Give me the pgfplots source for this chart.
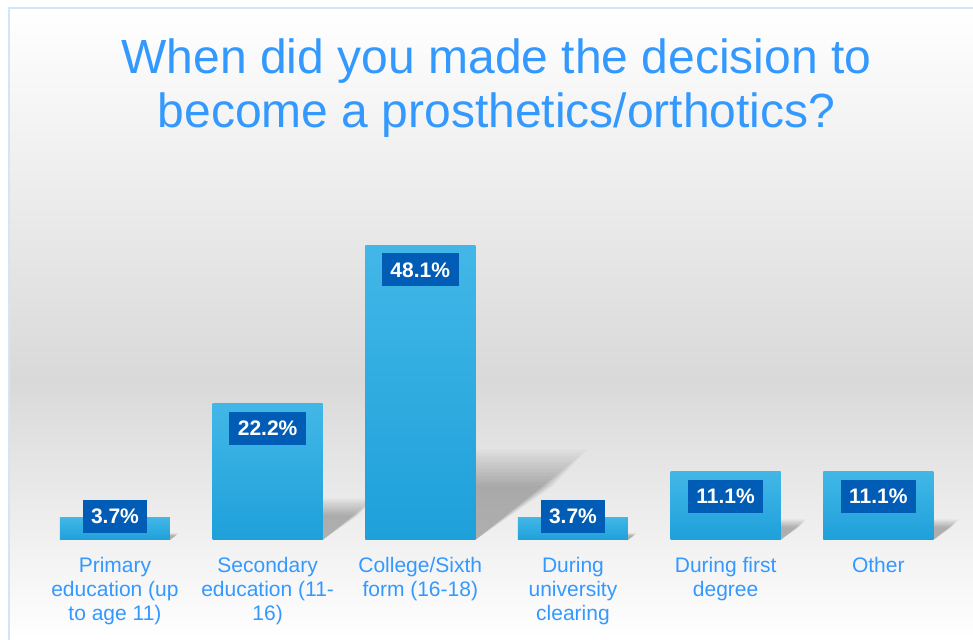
\documentclass[border=0pt]{standalone}
\usepackage{pgfplots}
\pgfplotsset{compat=1.18}
\usepackage{pgfplotstable}
\usepackage{fontspec}
\setmainfont{Liberation Sans}
\definecolor{titleblue}{HTML}{3399FF}
\definecolor{bartop}{HTML}{42B7E7}
\definecolor{barbot}{HTML}{1EA0DA}
\definecolor{boxblue}{HTML}{005CB5}
\definecolor{framecol}{HTML}{D2E6FA}
\definecolor{bggrey}{HTML}{D9D9D9}

\pgfplotstableread{
x v
0 3.7
1 22.2
2 48.1
3 3.7
4 11.1
5 11.1
}\data

\begin{document}
\begin{tikzpicture}[x=1pt,y=1pt]
\useasboundingbox (0,0) rectangle (973,639);
\fill[white] (0,0) rectangle (973,639);
\shade[top color=white, bottom color=bggrey] (9.5,259) rectangle (973,629.5);
\shade[top color=bggrey, bottom color=white] (9.5,0) rectangle (973,259.2);
\draw[framecol, line width=2pt] (8.5,-5) -- (8.5,630.5) -- (990,630.5);
\node[anchor=base, font=\fontsize{48}{54}\selectfont, text=titleblue, inner sep=0] at (496.5,565) {When did you made the decision to};
\node[anchor=base, font=\fontsize{48}{54}\selectfont, text=titleblue, inner sep=0] at (496.5,511) {become a prosthetics/orthotics?};
\begin{axis}[
  scale only axis, width=916pt, height=306.5pt,
  at={(38.6pt,99pt)}, anchor=south west,
  xmin=-0.5, xmax=5.5, ymin=0, ymax=50,
  axis line style={draw=none}, major tick length=0pt,
  ytick=\empty, xtick={0,...,5},
  xticklabels={{Primary\\education (up\\to age 11)},{Secondary\\education (11-\\16)},{College/Sixth\\form (16-18)},{During\\university\\clearing},{During first\\degree},{Other}},
  xticklabel style={align=center, font=\fontsize{21}{24}\selectfont, text=titleblue, yshift=-14pt},
  clip=false,
]
% soft perspective shadows behind the bars
\pgfplotsinvokeforeach{0,...,5}{
  \pgfplotstablegetelem{#1}{v}\of\data
  \let\vv\pgfplotsretval
  \pgfplotsforeachungrouped \l in {0,...,11}{
    \pgfmathsetmacro\hh{\vv*(0.185+0.011*\l)}
    \pgfmathsetmacro\ss{\vv*0.0135*(0.8+0.03*\l)}
    \pgfmathsetmacro\xl{#1-0.36}
    \pgfmathsetmacro\xr{#1+0.36}
    \pgfmathsetmacro\xls{#1-0.36+\ss}
    \pgfmathsetmacro\xrs{#1+0.36+\ss}
    \edef\tmp{\noexpand\fill[black, fill opacity=0.022] (axis cs:\xl,0) -- (axis cs:\xr,0) -- (axis cs:\xrs,\hh) -- (axis cs:\xls,\hh) -- cycle;}
    \tmp
  }
}
% bars, one path each so that each has its own gradient
\pgfplotsinvokeforeach{0,...,5}{
  \addplot[ybar, bar width=110pt, draw=none, top color=bartop, bottom color=barbot,
    x filter/.expression={x==#1 ? x : nan}]
    table[x=x,y=v]{\data};
}
% value labels
\addplot[ybar, bar width=110pt, draw=none, fill=none,
  nodes near coords={\pgfmathprintnumber[fixed,fixed zerofill,precision=1,assume math mode=true]{\pgfplotspointmeta}\%},
  visualization depends on={y \as \rawy},
  every node near coord/.append style={anchor=north, fill=boxblue, text=white,
    font=\fontsize{21}{24}\selectfont\bfseries, inner xsep=8.5pt, inner ysep=0pt,
    minimum height=33pt, yshift={(\rawy<5)*26-8}}]
  table[x=x,y=v]{\data};
\end{axis}
\end{tikzpicture}
\end{document}
